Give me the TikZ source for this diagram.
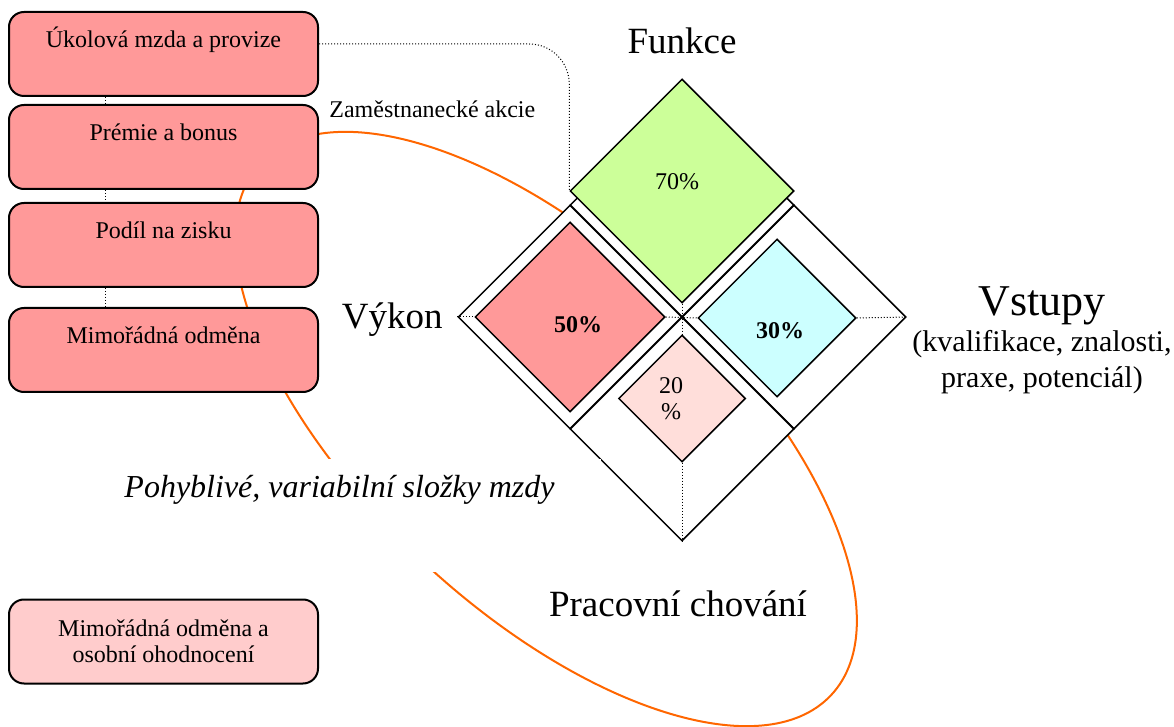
\documentclass[tikz,border=0pt]{standalone}
\usepackage{fontspec}
\setmainfont{Liberation Serif}
\usetikzlibrary{shapes.geometric}
\definecolor{boxred}{RGB}{255,153,153}
\definecolor{boxpale}{RGB}{255,204,204}
\definecolor{funcgreen}{RGB}{204,255,153}
\definecolor{inputcyan}{RGB}{204,255,255}
\definecolor{workpink}{RGB}{255,222,218}
\definecolor{ringorange}{RGB}{255,102,0}
\begin{document}
\begin{tikzpicture}[x=0.5pt, y=-0.5pt,
    tag/.style={draw, line width=1pt, rounded corners=7.5pt,
      minimum width=154.5pt, minimum height=42pt,
      font=\fontsize{12}{13}\selectfont},
    wage/.style={tag, fill=boxred, inner ysep=10pt,
      text height=8pt, text depth=14pt},
    quad/.style={diamond, aspect=1, draw, line width=0.75pt,
      fill=white, inner sep=0pt, minimum size=112pt},
    share/.style={diamond, aspect=1, draw, line width=0.75pt, inner sep=0pt},
    pct/.style={font=\fontsize{12}{13}\selectfont},
    big/.style={font=\fontsize{18.5}{22}\selectfont},
    link/.style={line width=0.5pt, densely dotted}]
  \useasboundingbox (0,0) rectangle (1174,727);
  \draw[ringorange, line width=1pt, rotate around={-43:(546,429)}]
    (546,429) ellipse (390 and 181);
  \node[wage] (ukol) at (163.5,54) {Úkolová mzda a provize};
  \node[wage] (premie) at (163.5,147) {Prémie a bonus};
  \node[wage] (podil) at (163.5,245) {Podíl na zisku};
  \node[wage] (mimo) at (163.5,350) {Mimořádná odměna};
  \node[tag, fill=boxpale, align=center] (osobni) at (163.5,641.5)
    {Mimořádná odměna a\\osobní ohodnocení};
  \begin{scope}[link]
    \draw ([xshift=-29pt]ukol.south) to ([xshift=-29pt]premie.north);
    \draw ([xshift=-29pt]premie.south) to ([xshift=-29pt]podil.north);
    \draw ([xshift=-29pt]podil.south) to ([xshift=-29pt]mimo.north);
  \end{scope}
  \node[quad] (qleft) at (570,317) {};
  \node[quad] (qright) at (794,317) {};
  \node[quad] (qbottom) at (682,429) {};
  \node[quad] (qtop) at (682,205) {};
  \node[share, fill=funcgreen, minimum size=112pt] (funkce70) at (682,191) {};
  \node[share, fill=boxred, minimum size=95pt] (vykon50) at (570,317) {};
  \node[share, fill=inputcyan, minimum size=79pt] (vstupy30) at (777,318) {};
  \node[share, fill=workpink, minimum size=63.5pt] (chovani20) at (682,398.5) {};
  \node[pct, anchor=base] (p70) at (677,190) {70\%};
  \node[pct, anchor=base] (p50) at (578,333) {\bfseries 50\%};
  \node[pct, anchor=base] (p30) at (780,339) {\bfseries 30\%};
  \node[pct, align=center] (p20) at (671,399) {20\\\%};
  \begin{scope}[link]
    \draw (qleft.west) to (vykon50.west);
    \draw (vykon50.east) to (vstupy30.west);
    \draw (funkce70.south) to (chovani20.north);
    \draw (vstupy30.east) to (qright.east);
    \draw (chovani20.south) to (qbottom.south);
    \draw[rounded corners=20pt] ([yshift=5pt]ukol.east) -| (funkce70.west);
  \end{scope}
  \node[fill=white, font=\fontsize{16}{18}\selectfont\itshape,
    inner xsep=23pt, inner ysep=8pt, text height=11pt, text depth=29.5pt,
    anchor=north east] (pohyb) at (601,459) {Pohyblivé, variabilní složky mzdy};
  \node[big, anchor=base] (funkce) at (682,54) {Funkce};
  \node[big, inner sep=0pt, anchor=base east] (vykon) at (443,329) {Výkon};
  \node[big, anchor=base] (chovani) at (678,617) {Pracovní chování};
  \node[align=center, font=\fontsize{15}{18}\selectfont] (vstupy) at (1042,340)
    {{\fontsize{22}{22}\selectfont Vstupy}\\(kvalifikace, znalosti,\\praxe, potenciál)};
  \node[pct, inner sep=0pt, anchor=base west] (akcie) at (329,118) {Zaměstnanecké akcie};
\end{tikzpicture}
\end{document}
